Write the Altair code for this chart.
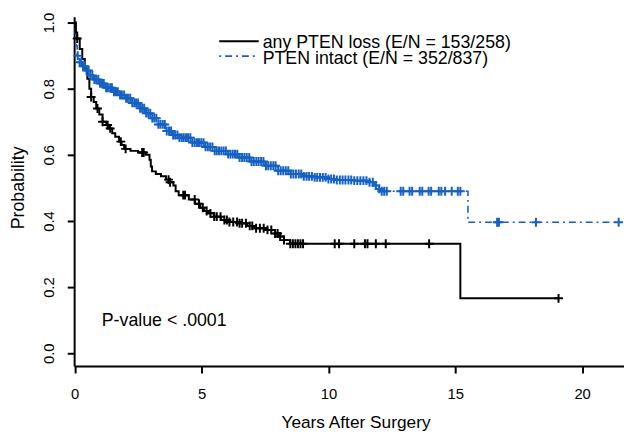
import bisect
import altair as alt
import pandas as pd

# ---- data ----
loss_t = [0, 0.05, 0.1, 0.2, 0.3, 0.4, 0.5, 0.58, 0.65, 0.75, 0.85, 0.97, 1.1, 1.25, 1.36,
          1.48, 1.6, 1.75, 1.85, 1.95, 2.2, 2.5, 2.8, 2.95, 3.0, 3.05, 3.2, 3.4, 3.6, 3.76,
          3.89, 3.98, 4.1, 4.5, 4.74, 4.95, 5.1, 5.25, 5.5, 5.77, 6.1, 6.42, 6.8, 7.07, 7.59,
          7.9, 8.04, 8.25, 8.49, 15.2, 19.07]
loss_s = [1.0, 0.97, 0.952, 0.92, 0.89, 0.86, 0.83, 0.80, 0.775, 0.76, 0.74, 0.722, 0.70, 0.69, 0.68,
          0.665, 0.655, 0.64, 0.63, 0.618, 0.612, 0.607, 0.60, 0.585, 0.565, 0.55, 0.542, 0.535, 0.525, 0.517,
          0.507, 0.49, 0.478, 0.465, 0.452, 0.44, 0.43, 0.423, 0.413, 0.403, 0.397, 0.393, 0.385, 0.378, 0.373,
          0.362, 0.353, 0.342, 0.331, 0.166, 0.166]
loss_cens = [0.1, 0.65, 0.9, 1.1, 1.3, 1.4, 1.82, 2.01, 2.66, 2.72, 3.7, 3.76, 4.28, 4.35, 4.73,
             4.9, 5.05, 5.2, 5.35, 5.5, 5.6, 5.75, 5.9, 6.0, 6.1, 6.25, 6.4, 6.5, 6.6, 6.75, 6.9,
             7.0, 7.15, 7.3, 7.45, 7.6, 7.75, 7.9, 8.0, 8.1, 8.25, 8.5, 8.6, 8.7, 8.8, 8.9, 9.0,
             10.25, 10.42, 11.02, 11.44, 11.54, 11.87, 12.26, 13.97, 19.07]

intact_t = [0, 0.03, 0.06, 0.1, 0.13, 0.2, 0.32, 0.45, 0.58, 0.75, 0.97, 1.2, 1.49, 1.75, 2.01,
            2.25, 2.53, 2.8, 3.05, 3.3, 3.57, 3.85, 4.09, 4.6, 5.12, 5.5, 6.0, 6.42, 6.9, 7.46,
            8.0, 8.49, 9.0, 9.4, 10.0, 10.31, 11.0, 11.6, 11.8, 11.93, 12.05, 15.5, 21.44]
intact_s = [1.0, 0.96, 0.93, 0.90, 0.89, 0.88, 0.868, 0.855, 0.84, 0.828, 0.816, 0.803, 0.791, 0.781, 0.771,
            0.757, 0.741, 0.726, 0.711, 0.692, 0.672, 0.66, 0.652, 0.637, 0.624, 0.612, 0.602, 0.592, 0.58, 0.567,
            0.552, 0.542, 0.535, 0.532, 0.527, 0.524, 0.522, 0.517, 0.507, 0.497, 0.49, 0.396, 0.396]
intact_cens = [0.12, 0.2, 0.26, 0.33, 0.4, 0.47, 0.55, 0.62, 0.7, 0.78, 0.85, 0.93, 1.0, 1.08, 1.15,
               1.24, 1.31, 1.4, 1.47, 1.55, 1.63, 1.7, 1.79, 1.86, 1.95, 2.03, 2.1, 2.19, 2.27, 2.35,
               2.42, 2.5, 2.58, 2.66, 2.74, 2.82, 2.9, 2.98, 3.06, 3.14, 3.22, 3.3, 3.38, 3.47, 3.55,
               3.63, 3.72, 3.8, 3.88, 3.96, 4.05, 4.13, 4.22, 4.3, 4.39, 4.47, 4.56, 4.64, 4.73, 4.82,
               4.9, 4.99, 5.08, 5.16, 5.25, 5.34, 5.43, 5.52, 5.6, 5.69, 5.78, 5.87, 5.96, 6.05, 6.14,
               6.23, 6.32, 6.41, 6.5, 6.6, 6.69, 6.78, 6.88, 6.97, 7.06, 7.16, 7.25, 7.35, 7.44, 7.54,
               7.63, 7.73, 7.83, 7.92, 8.02, 8.12, 8.22, 8.32, 8.42, 8.52, 8.62, 8.72, 8.83, 8.93, 9.03,
               9.14, 9.24, 9.35, 9.46, 9.56, 9.67, 9.78, 9.89, 10.0, 10.11, 10.22, 10.33, 10.45, 10.56,
               10.67, 10.79, 10.9, 11.02, 11.14, 11.26, 11.38, 11.5, 11.62, 11.75, 11.87, 12.0, 12.1,
               12.2, 12.3, 12.85, 12.95, 13.2, 13.3, 13.6, 13.7, 13.95, 14.05, 14.35, 14.45, 14.6,
               14.86, 15.1, 15.2, 16.65, 16.72, 18.18, 21.44]

legend_labels = ["any PTEN loss (E/N = 153/258)", "PTEN intact (E/N = 352/837)"]
pvalue_label = "P-value < .0001"
x_ticks = [0, 5, 10, 15, 20]
y_ticks = [0.0, 0.2, 0.4, 0.6, 0.8, 1.0]

BLACK = "#000000"
BLUE = "#1560c4"
FONT = "Liberation Sans"
PLUS = "M-1,0H1M0,-1V1"


def surv_at(ts, ss, t):
    i = bisect.bisect_right(ts, t) - 1
    return ss[max(i, 0)]


loss_df = pd.DataFrame({"t": loss_t, "s": loss_s})
intact_df = pd.DataFrame({"t": intact_t, "s": intact_s})
loss_c = pd.DataFrame({"t": loss_cens, "s": [surv_at(loss_t, loss_s, t) for t in loss_cens]})
intact_c = pd.DataFrame({"t": intact_cens, "s": [surv_at(intact_t, intact_s, t) for t in intact_cens]})

xs = alt.Scale(domain=[-0.02, 21.65], nice=False, zero=False)
ys = alt.Scale(domain=[-0.039, 1.018], nice=False, zero=False)

x_axis = alt.Axis(values=x_ticks, title="Years After Surgery", labelPadding=14,
                  titleY=62, titleX=285, titleBaseline="alphabetic", titleFontSize=17.5)
y_axis = alt.Axis(values=y_ticks, format=".1f", title="Probability", labelAngle=-90,
                  labelAlign="center", labelBaseline="alphabetic", labelPadding=14,
                  titleX=-56, titleY=173, titleBaseline="middle", titleAlign="center",
                  titleAngle=270, titleFontSize=18)

X = alt.X("t:Q", scale=xs, axis=x_axis)
Y = alt.Y("s:Q", scale=ys, axis=y_axis)

intact_line = alt.Chart(intact_df).mark_line(
    interpolate="step-after", color=BLUE, strokeWidth=1.6, strokeDash=[2, 4, 7, 4]
).encode(x=X, y=Y)
loss_line = alt.Chart(loss_df).mark_line(
    interpolate="step-after", color=BLACK, strokeWidth=2
).encode(x=X, y=Y)
intact_pts = alt.Chart(intact_c).mark_point(
    shape=PLUS, size=81, filled=False, stroke=BLUE, strokeWidth=2, opacity=1
).encode(x=X, y=Y)
loss_pts = alt.Chart(loss_c).mark_point(
    shape=PLUS, size=81, filled=False, stroke=BLACK, strokeWidth=2, opacity=1
).encode(x=X, y=Y)

one = pd.DataFrame({"k": [0]})
leg_black = alt.Chart(one).mark_rule(color=BLACK, strokeWidth=2).encode(
    x=alt.value(147), x2=alt.value(187), y=alt.value(25))
leg_blue = alt.Chart(one).mark_rule(color=BLUE, strokeWidth=1.6, strokeDash=[2, 4, 7, 4]).encode(
    x=alt.value(147), x2=alt.value(187), y=alt.value(40))
leg_text = alt.Chart(pd.DataFrame({"label": legend_labels, "yy": [32, 48]})).mark_text(
    align="left", baseline="alphabetic", font=FONT, fontSize=18, color=BLACK
).encode(x=alt.value(191), y=alt.Y("yy:Q", scale=None), text="label:N")
ptext = alt.Chart(pd.DataFrame({"label": [pvalue_label]})).mark_text(
    align="left", baseline="middle", font=FONT, fontSize=18, color=BLACK
).encode(x=alt.value(28), y=alt.value(308), text="label:N")

chart = alt.layer(
    intact_line, loss_line, intact_pts, loss_pts, leg_black, leg_blue, leg_text, ptext
).properties(
    width=557, height=354,
    autosize=alt.AutoSizeParams(type="none"),
    padding={"left": 67, "top": 6, "right": 0, "bottom": 64},
).configure_view(stroke=None).configure_axis(
    domainColor=BLACK, domainWidth=2, tickColor=BLACK, tickWidth=2, tickSize=7,
    labelFont=FONT, labelFontSize=15, labelColor=BLACK,
    titleFont=FONT, titleColor=BLACK, titleFontWeight="normal",
    grid=False, labelFlush=False, labelOverlap=False,
)

chart.save("out.html", embed_options={"renderer": "svg", "actions": False})
